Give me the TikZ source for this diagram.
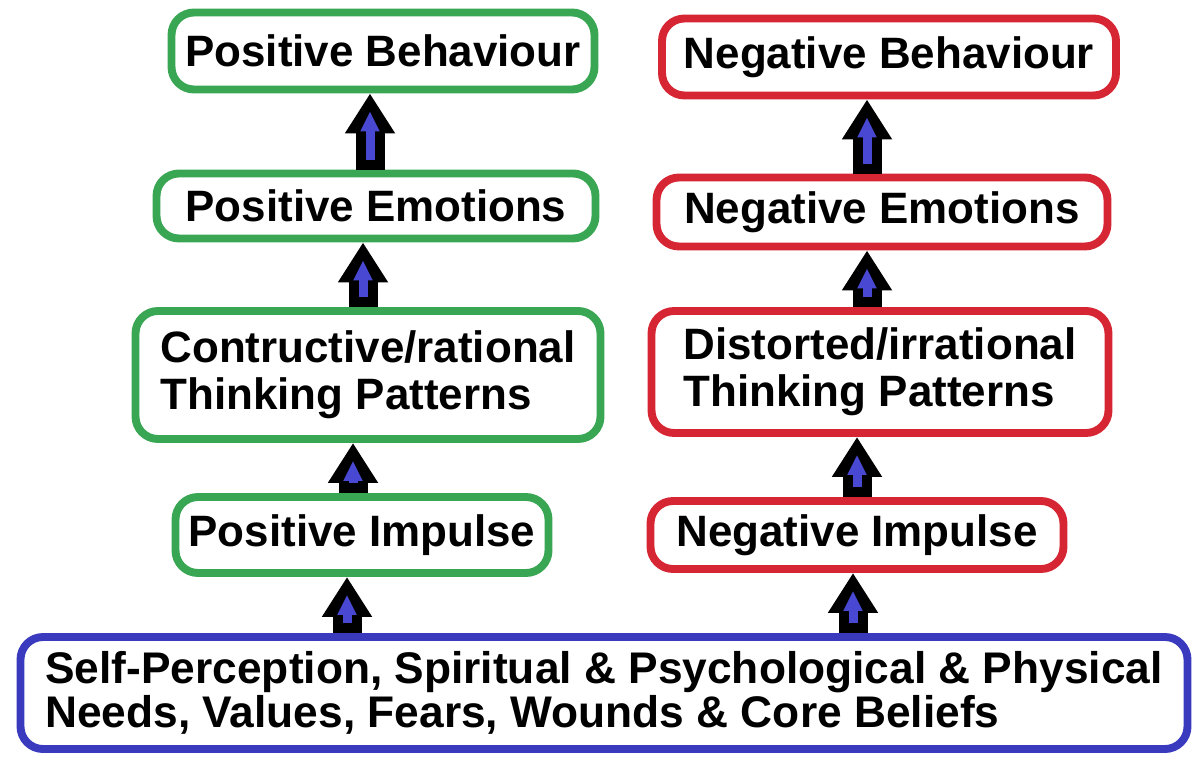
\documentclass[tikz,border=0pt]{standalone}
\usepackage{fontspec}
\setmainfont{Liberation Sans}
\usetikzlibrary{arrows.meta,positioning}

\definecolor{goodgreen}{RGB}{56,166,82}
\definecolor{badred}{RGB}{214,38,52}
\definecolor{baseblue}{RGB}{58,58,190}
\definecolor{arrowblue}{RGB}{72,72,210}

\begin{document}
\begin{tikzpicture}[font=\bfseries\fontsize{25}{27}\selectfont]
	\tikzstyle{roundbox}=[draw, line width=4.5pt, rounded corners=0.45cm, inner sep=0pt, align=left, fill=white]
	\tikzstyle{goodbox}=[roundbox, draw=goodgreen]
	\tikzstyle{badbox}=[roundbox, draw=badred]
	\tikzstyle{uparrow}=[draw=arrowblue, line width=0.18cm, shorten >=0.36cm, shorten <=0.2cm,
		-{Triangle[width=0.36cm,length=0.4cm]},
		preaction={draw=black, line width=0.58cm, shorten >=0pt, shorten <=0pt, -{Triangle[width=0.95cm,length=0.8cm]}}]
	\useasboundingbox (0,0) rectangle (23.9,15.12);

	% positive side
	\node[goodbox, minimum width=8.46cm, minimum height=1.54cm] (P4) at (7.66,14.10) {Positive Behaviour};
	\node[goodbox, minimum width=8.78cm, minimum height=1.30cm] (P3) at (7.52,11.00) {Positive Emotions};
	\node[goodbox, minimum width=9.30cm, minimum height=2.56cm] (P2) at (7.36,7.62) {Contructive/rational\\Thinking Patterns};
	\node[goodbox, minimum width=7.46cm, minimum height=1.52cm] (P1) at (7.24,4.42) {Positive Impulse};

	% negative side
	\node[badbox, minimum width=9.08cm, minimum height=1.54cm] (N4) at (17.78,13.98) {Negative Behaviour};
	\node[badbox, minimum width=9.02cm, minimum height=1.38cm] (N3) at (17.64,10.88) {Negative Emotions};
	\node[badbox, minimum width=9.14cm, minimum height=2.44cm] (N2) at (17.60,7.68) {Distorted/irrational\\Thinking Patterns};
	\node[badbox, minimum width=8.26cm, minimum height=1.36cm] (N1) at (17.14,4.42) {Negative Impulse};

	% common root
	\node[roundbox, draw=baseblue, minimum width=23.34cm, minimum height=2.24cm,
		font=\bfseries\fontsize{25.2}{25}\selectfont] (S) at (12.08,1.26)
		{Self-Perception, Spiritual \& Psychological \& Physical\\Needs, Values, Fears, Wounds \& Core Beliefs};

	\draw[uparrow] ([xshift=-3mm]P1.south |- S.north) -- ([xshift=-3mm]P1.south);
	\draw[uparrow] ([xshift=-1.8mm]P1.north) -- ([xshift=-1.8mm]P1.north |- P2.south);
	\draw[uparrow] ([xshift=-1mm]P2.north) -- ([xshift=-1mm]P2.north |- P3.south);
	\draw[uparrow] ([xshift=-1.2mm]P3.north) -- ([xshift=-1.2mm]P3.north |- P4.south);

	\draw[uparrow] ([xshift=-0.8mm]N1.south |- S.north) -- ([xshift=-0.8mm]N1.south);
	\draw[uparrow] (N1.north) -- (N1.north |- N2.south);
	\draw[uparrow] ([xshift=-2.6mm]N2.north) -- ([xshift=-2.6mm]N2.north |- N3.south);
	\draw[uparrow] ([xshift=-3mm]N3.north) -- ([xshift=-3mm]N3.north |- N4.south);
\end{tikzpicture}
\end{document}
